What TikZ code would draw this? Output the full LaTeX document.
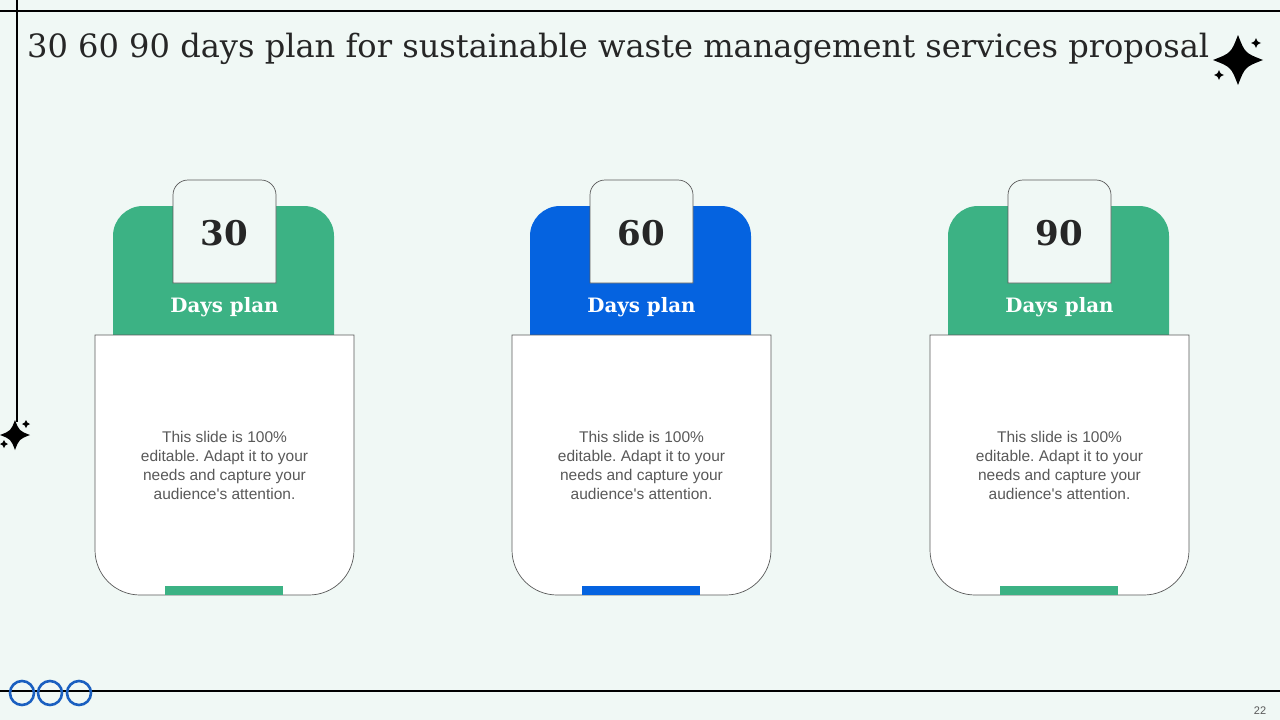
\documentclass[tikz,border=0pt]{standalone}
\usepackage{fontspec}
\setmainfont{DejaVu Serif}
\newfontfamily\arialf{Liberation Sans}
\frenchspacing
\definecolor{bgc}{RGB}{240,248,245}
\definecolor{cgreen}{RGB}{60,178,132}
\definecolor{cblue}{RGB}{5,99,224}
\definecolor{ringblue}{RGB}{26,95,192}
\definecolor{txtgray}{RGB}{89,89,89}
\definecolor{darktxt}{RGB}{38,38,38}
\definecolor{edgegray}{RGB}{90,90,90}
\tikzset{
  frameline/.style={line width=1.5pt, black},
  ring/.style={draw=ringblue, line width=2.6pt},
  tabbox/.style={draw=edgegray, line width=0.7pt, fill=bgc},
  bodybox/.style={draw=edgegray, line width=0.7pt, fill=white},
  numtxt/.style={font=\bfseries\fontsize{34}{38}\selectfont, text=darktxt},
  daystxt/.style={font=\bfseries\fontsize{19.8}{23}\selectfont, text=white},
  bodytxt/.style={font=\arialf\fontsize{15.5}{19}\selectfont, text=txtgray, align=center},
}
\newcommand{\sparkle}[3]{% x, y, r
  \fill[black] (#1,#2) ++(0,-#3) .. controls +(0.28*#3,0.72*#3) .. ++(#3,#3)
     .. controls +(-0.72*#3,0.28*#3) .. ++(-#3,#3)
     .. controls +(-0.28*#3,-0.72*#3) .. ++(-#3,-#3)
     .. controls +(0.72*#3,-0.28*#3) .. ++(#3,-#3) -- cycle;}
\begin{document}
\begin{tikzpicture}[x=1pt,y=-1pt]
\useasboundingbox (0,0) rectangle (1280,720);
\fill[bgc] (0,0) rectangle (1280,720);
% frame lines
\coordinate (tl) at (0,11); \coordinate (tr) at (1280,11);
\coordinate (bl) at (0,691); \coordinate (br) at (1280,691);
\coordinate (vt) at (17,0); \coordinate (vb) at (17,422);
\draw[frameline] (tl) -- (tr);
\draw[frameline] (bl) -- (br);
\draw[frameline] (vt) -- (vb);
% rings
\foreach \cx/\n in {22/1,50/2,79/3} \draw[ring] (\cx,693) circle (12);
% sparkles
\sparkle{1238}{60}{25}
\sparkle{1256}{43}{5}
\sparkle{1219}{75}{5}
\sparkle{15}{435}{15}
\sparkle{26}{424}{4}
\sparkle{4}{444}{4}
% title
\node[anchor=base west, inner sep=0, text=darktxt, font=\fontsize{32.1}{36}\selectfont] (title) at (27,57) {30 60 90 days plan for sustainable waste management services proposal};
% page number
\node[font=\arialf\fontsize{11}{13}\selectfont, text=txtgray] (pg) at (1260,711) {22};
% cards
\foreach \i/\dx/\col/\num in {1/0/cgreen/30, 2/417/cblue/60, 3/835/cgreen/90}{
\begin{scope}[xshift=\dx pt]
  \fill[\col] (113,335) [rounded corners=30pt] -- (113,206) -- (334,206) [sharp corners] -- (334,335) -- cycle;
  \draw[tabbox] (173,283) [rounded corners=15pt] -- (173,180) -- (276,180) [sharp corners] -- (276,283) -- cycle;
  \node[numtxt] (num\i) at (224.5,233) {\num};
  \node[daystxt] (days\i) at (224.5,307) {Days plan};
  \draw[bodybox] (95,335) [rounded corners=45pt] -- (95,595) -- (354,595) [sharp corners] -- (354,335) -- cycle;
  \fill[\col] (165,586) rectangle (283,595);
  \node[bodytxt] (txt\i) at (224.5,465) {This slide is 100\%\\editable. Adapt it to your\\needs and capture your\\audience's attention.};
\end{scope}}
\end{tikzpicture}
\end{document}
